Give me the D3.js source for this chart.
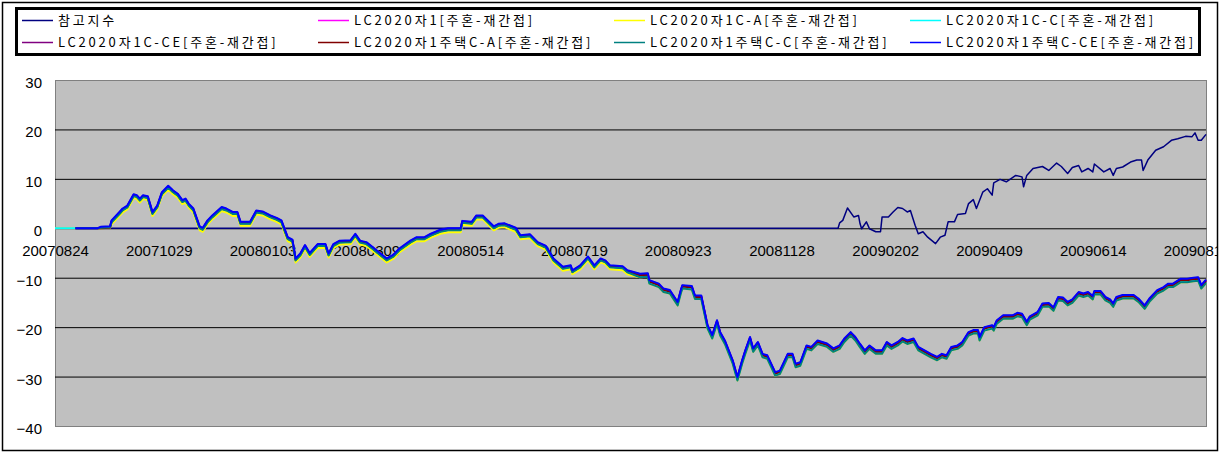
<!DOCTYPE html>
<html>
<head>
<meta charset="utf-8">
<script src="https://cdnjs.cloudflare.com/ajax/libs/d3/7.8.5/d3.min.js"></script>
<style>
body { margin: 0; background: #ffffff; }
</style>
</head>
<body>
<div id="grafico"></div>
<script>
/* nombres y colores de las series (orden de Excel) */
var seriesNames = ["참고지수", "LC2020자1[주혼-재간접]", "LC2020자1C-A[주혼-재간접]", "LC2020자1C-C[주혼-재간접]",
    "LC2020자1C-CE[주혼-재간접]", "LC2020자1주택C-A[주혼-재간접]", "LC2020자1주택C-C[주혼-재간접]", "LC2020자1주택C-CE[주혼-재간접]"];
var seriesColors = ["#000080", "#ff00ff", "#ffff00", "#00ffff", "#800080", "#800000", "#008080", "#0000ff"];

var xTickLabels = ["20070824", "20071029", "20080103", "20080309", "20080514", "20080719",
    "20080923", "20081128", "20090202", "20090409", "20090614", "20090819"];
var yTicks = [-40, -30, -20, -10, 0, 10, 20, 30];

/* 참고지수 */
var refDates = ["20070824", "20090103", "20090104", "20090106", "20090109", "20090113", "20090116", "20090117", "20090118", "20090121",
    "20090123", "20090127", "20090130", "20090131", "20090204", "20090207", "20090210", "20090213", "20090216", "20090218",
    "20090221", "20090223", "20090226", "20090301", "20090306", "20090309", "20090312", "20090314", "20090318", "20090320",
    "20090325", "20090327", "20090330", "20090401", "20090405", "20090408", "20090411", "20090412", "20090416", "20090420",
    "20090426", "20090430", "20090501", "20090503", "20090507", "20090513", "20090517", "20090522", "20090525", "20090529",
    "20090601", "20090605", "20090607", "20090611", "20090614", "20090615", "20090621", "20090625", "20090627", "20090629",
    "20090703", "20090708", "20090712", "20090715", "20090716", "20090719", "20090724", "20090729", "20090803", "20090807",
    "20090812", "20090816", "20090818", "20090820", "20090822", "20090825"];
var refValues = [0, 0, 1.1, 1.6, 4.1, 2.3, 2.6, 0.9, -0.1, 1.3,
    -0.1, -0.7, -0.7, 2.3, 2.3, 3.3, 4.2, 4.0, 3.3, 3.6,
    0.6, -1.1, -0.7, -1.8, -3.1, -1.8, -1.4, 1.3, 1.3, 2.8,
    3.0, 5.0, 5.8, 4.0, 7.3, 8.0, 6.7, 9.2, 9.9, 9.4,
    10.7, 10.4, 8.4, 10.7, 12.1, 12.5, 11.7, 13.2, 12.5, 11.1,
    12.3, 12.7, 11.4, 12.1, 11.4, 13.0, 11.4, 12.1, 10.7, 12.1,
    12.4, 13.4, 13.8, 13.8, 11.7, 13.8, 15.8, 16.5, 17.8, 18.1,
    18.6, 18.5, 19.3, 17.8, 17.8, 19.0];

/* fondos: misma fecha para todas las series */
var fundDates = ["20070824", "20070906", "20070920", "20070922", "20070928", "20070929", "20071004", "20071006", "20071009", "20071013",
    "20071015", "20071017", "20071019", "20071022", "20071025", "20071028", "20071031", "20071104", "20071107", "20071110",
    "20071113", "20071115", "20071117", "20071120", "20071124", "20071126", "20071129", "20071202", "20071208", "20071211",
    "20071215", "20071218", "20071220", "20071226", "20071230", "20080103", "20080108", "20080112", "20080115", "20080119",
    "20080122", "20080124", "20080127", "20080130", "20080202", "20080207", "20080212", "20080214", "20080217", "20080221",
    "20080228", "20080302", "20080305", "20080309", "20080313", "20080318", "20080322", "20080326", "20080330", "20080406",
    "20080410", "20080415", "20080419", "20080425", "20080430", "20080508", "20080509", "20080515", "20080518", "20080522",
    "20080529", "20080601", "20080605", "20080612", "20080615", "20080621", "20080626", "20080701", "20080706", "20080712",
    "20080717", "20080718", "20080723", "20080728", "20080801", "20080805", "20080808", "20080811", "20080819", "20080822",
    "20080830", "20080904", "20080905", "20080911", "20080914", "20080918", "20080923", "20080925", "20080926", "20081002",
    "20081004", "20081008", "20081010", "20081012", "20081015", "20081018", "20081020", "20081023", "20081028", "20081031",
    "20081103", "20081105", "20081108", "20081110", "20081113", "20081116", "20081119", "20081124", "20081127", "20081202",
    "20081205", "20081207", "20081210", "20081214", "20081217", "20081221", "20081227", "20081231", "20090104", "20090107",
    "20090111", "20090114", "20090117", "20090120", "20090123", "20090127", "20090131", "20090203", "20090206", "20090210",
    "20090213", "20090216", "20090220", "20090223", "20090227", "20090303", "20090307", "20090310", "20090313", "20090316",
    "20090320", "20090323", "20090327", "20090330", "20090402", "20090403", "20090406", "20090411", "20090412", "20090414",
    "20090418", "20090424", "20090427", "20090430", "20090503", "20090505", "20090510", "20090513", "20090517", "20090520",
    "20090523", "20090526", "20090529", "20090601", "20090605", "20090608", "20090611", "20090614", "20090615", "20090619",
    "20090622", "20090625", "20090627", "20090629", "20090703", "20090710", "20090713", "20090717", "20090720", "20090725",
    "20090729", "20090801", "20090804", "20090809", "20090813", "20090817", "20090820", "20090822", "20090825"];

/* LC2020자1 */
var fund1 = [0, 0, 0, 0.1, 0.2, 1.4, 3.1, 3.8, 4.4, 6.7,
    6.5, 5.8, 6.5, 6.3, 3.1, 4.4, 7.1, 8.4, 7.5, 6.8,
    5.5, 5.8, 4.8, 3.8, 0.2, -0.1, 1.4, 2.4, 4.1, 3.8,
    3.1, 3.1, 1.1, 1.1, 3.4, 3.2, 2.4, 1.9, 1.4, -2.0,
    -2.5, -6.3, -5.3, -3.6, -5.2, -3.4, -3.4, -5.3, -3.4, -2.7,
    -2.6, -1.3, -2.7, -3.0, -4.0, -5.3, -6.3, -5.6, -4.3, -2.7,
    -2.0, -2.0, -1.3, -0.5, -0.2, -0.2, 1.3, 1.1, 2.4, 2.4,
    0.2, 0.7, 0.8, -0.1, -1.6, -1.4, -3.0, -3.7, -6.3, -8.0,
    -7.7, -8.7, -7.7, -5.9, -7.7, -6.3, -6.7, -7.7, -7.9, -8.7,
    -9.4, -9.3, -10.7, -11.4, -12.4, -12.7, -15.1, -12.7, -11.7, -11.9,
    -13.8, -13.8, -16.8, -19.8, -21.8, -18.8, -21.2, -22.9, -26.9, -30.3,
    -26.9, -24.9, -22.2, -24.5, -23.2, -25.6, -25.9, -29.3, -29.0, -25.6,
    -25.6, -27.6, -27.3, -23.9, -24.2, -22.9, -23.5, -24.5, -23.9, -22.5,
    -21.2, -22.2, -23.6, -24.9, -23.9, -24.9, -24.9, -23.2, -23.9, -23.2,
    -22.4, -22.9, -22.5, -24.2, -24.9, -25.6, -26.2, -25.6, -25.9, -24.2,
    -23.9, -23.2, -21.2, -20.8, -20.8, -22.2, -20.2, -19.8, -20.2, -18.8,
    -17.8, -17.8, -17.3, -17.5, -19.1, -18.0, -17.1, -15.4, -15.3, -16.2,
    -14.1, -14.2, -15.1, -14.6, -13.1, -13.4, -13.1, -13.9, -12.9, -12.9,
    -14.1, -14.6, -15.4, -14.1, -13.7, -13.7, -14.4, -15.8, -14.4, -12.7,
    -12.1, -11.4, -11.4, -10.4, -10.4, -10.2, -10.1, -11.7, -10.6];

/* LC2020자1C-A */
var fund1CA = [0, 0, 0, 0.0, 0.1, 0.8, 2.5, 3.2, 3.8, 6.1,
    5.9, 5.2, 5.9, 5.7, 2.5, 3.8, 6.5, 7.8, 6.9, 6.2,
    4.9, 5.2, 4.2, 3.2, -0.4, -0.7, 0.8, 1.8, 3.5, 3.2,
    2.5, 2.5, 0.5, 0.5, 2.8, 2.6, 1.8, 1.3, 0.8, -2.6,
    -3.1, -6.9, -5.9, -4.2, -5.8, -4.0, -4.0, -5.9, -4.0, -3.3,
    -3.2, -1.9, -3.3, -3.6, -4.6, -5.9, -6.9, -6.2, -4.9, -3.3,
    -2.6, -2.6, -1.9, -1.1, -0.8, -0.8, 0.7, 0.5, 1.8, 1.8,
    -0.4, 0.1, 0.2, -0.7, -2.2, -2.0, -3.6, -4.3, -6.9, -8.6,
    -8.3, -9.3, -8.3, -6.5, -8.3, -6.9, -7.3, -8.3, -8.5, -9.3,
    -9.9, -9.8, -11.2, -11.9, -12.9, -13.2, -15.6, -13.2, -12.2, -12.4,
    -14.3, -14.3, -17.3, -20.3, -22.3, -19.3, -21.7, -23.4, -27.4, -30.8,
    -27.4, -25.4, -22.7, -25.0, -23.7, -26.1, -26.4, -29.8, -29.5, -26.1,
    -26.1, -28.1, -27.8, -24.4, -24.7, -23.4, -24.0, -25.0, -24.4, -23.0,
    -21.7, -22.7, -24.1, -25.4, -24.4, -25.4, -25.4, -23.7, -24.4, -23.7,
    -22.9, -23.4, -23.0, -24.7, -25.4, -26.1, -26.7, -26.1, -26.4, -24.7,
    -24.4, -23.7, -21.7, -21.3, -21.3, -22.7, -20.7, -20.3, -20.7, -19.3,
    -18.3, -18.3, -17.8, -18.0, -19.6, -18.5, -17.6, -15.9, -15.8, -16.7,
    -14.6, -14.7, -15.6, -15.1, -13.6, -13.9, -13.6, -14.4, -13.4, -13.4,
    -14.6, -15.1, -15.9, -14.6, -14.2, -14.2, -14.9, -16.3, -14.9, -13.2,
    -12.6, -11.9, -11.9, -10.9, -10.9, -10.7, -10.6, -12.2, -11.1];

/* LC2020자1C-C */
var fund1CC = [0, 0, 0, 0.1, 0.2, 1.3, 3.0, 3.7, 4.3, 6.6,
    6.4, 5.7, 6.4, 6.2, 3.0, 4.3, 7.0, 8.3, 7.4, 6.7,
    5.4, 5.7, 4.7, 3.7, 0.1, -0.2, 1.3, 2.3, 4.0, 3.7,
    3.0, 3.0, 1.0, 1.0, 3.3, 3.1, 2.3, 1.8, 1.3, -2.1,
    -2.6, -6.4, -5.4, -3.7, -5.3, -3.5, -3.5, -5.4, -3.5, -2.8,
    -2.7, -1.4, -2.8, -3.1, -4.1, -5.4, -6.4, -5.7, -4.4, -2.8,
    -2.1, -2.1, -1.4, -0.6, -0.3, -0.3, 1.2, 1.0, 2.3, 2.3,
    0.1, 0.6, 0.7, -0.2, -1.7, -1.5, -3.1, -3.8, -6.4, -8.1,
    -7.8, -8.8, -7.8, -6.0, -7.8, -6.4, -6.8, -7.8, -8.0, -8.8,
    -9.7, -9.6, -11.0, -11.7, -12.7, -13.0, -15.4, -13.0, -12.0, -12.2,
    -14.1, -14.1, -17.1, -20.1, -22.1, -19.1, -21.5, -23.2, -27.2, -30.6,
    -27.2, -25.2, -22.5, -24.8, -23.5, -25.9, -26.2, -29.6, -29.3, -25.9,
    -25.9, -27.9, -27.6, -24.2, -24.5, -23.2, -23.8, -24.8, -24.2, -22.8,
    -21.5, -22.5, -23.9, -25.2, -24.2, -25.2, -25.2, -23.5, -24.2, -23.5,
    -22.7, -23.2, -22.8, -24.5, -25.2, -25.9, -26.5, -25.9, -26.2, -24.5,
    -24.2, -23.5, -21.5, -21.1, -21.1, -22.5, -20.5, -20.1, -20.5, -19.1,
    -18.1, -18.1, -17.6, -17.8, -19.4, -18.3, -17.4, -15.7, -15.6, -16.5,
    -14.4, -14.5, -15.4, -14.9, -13.4, -13.7, -13.4, -14.2, -13.2, -13.2,
    -14.4, -14.9, -15.7, -14.4, -14.0, -14.0, -14.7, -16.1, -14.7, -13.0,
    -12.4, -11.7, -11.7, -10.7, -10.7, -10.5, -10.4, -12.0, -10.9];

/* LC2020자1C-CE */
var fund1CCE = [null, 0, 0, 0.2, 0.3, 1.5, 3.2, 3.9, 4.5, 6.8,
    6.6, 5.9, 6.6, 6.4, 3.2, 4.5, 7.2, 8.5, 7.6, 6.9,
    5.6, 5.9, 4.9, 3.9, 0.3, 0.0, 1.5, 2.5, 4.2, 3.9,
    3.2, 3.2, 1.2, 1.2, 3.5, 3.3, 2.5, 2.0, 1.5, -1.9,
    -2.4, -6.2, -5.2, -3.5, -5.1, -3.3, -3.3, -5.2, -3.3, -2.6,
    -2.5, -1.2, -2.6, -2.9, -3.9, -5.2, -6.2, -5.5, -4.2, -2.6,
    -1.9, -1.9, -1.2, -0.4, -0.1, -0.1, 1.4, 1.2, 2.5, 2.5,
    0.3, 0.8, 0.9, 0.0, -1.5, -1.3, -2.9, -3.6, -6.2, -7.9,
    -7.6, -8.6, -7.6, -5.8, -7.6, -6.2, -6.6, -7.6, -7.8, -8.6,
    -9.3, -9.2, -10.6, -11.3, -12.3, -12.6, -15.0, -12.6, -11.6, -11.8,
    -13.7, -13.7, -16.7, -19.7, -21.7, -18.7, -21.1, -22.8, -26.8, -30.2,
    -26.8, -24.8, -22.1, -24.4, -23.1, -25.5, -25.8, -29.2, -28.9, -25.5,
    -25.5, -27.5, -27.2, -23.8, -24.1, -22.8, -23.4, -24.4, -23.8, -22.4,
    -21.1, -22.1, -23.5, -24.8, -23.8, -24.8, -24.8, -23.1, -23.8, -23.1,
    -22.3, -22.8, -22.4, -24.1, -24.8, -25.5, -26.1, -25.5, -25.8, -24.1,
    -23.8, -23.1, -21.1, -20.7, -20.7, -22.1, -20.1, -19.7, -20.1, -18.7,
    -17.7, -17.7, -17.2, -17.4, -19.0, -17.9, -17.0, -15.3, -15.2, -16.1,
    -14.0, -14.1, -15.0, -14.5, -13.0, -13.3, -13.0, -13.8, -12.8, -12.8,
    -14.0, -14.5, -15.3, -14.0, -13.6, -13.6, -14.3, -15.7, -14.3, -12.6,
    -12.0, -11.3, -11.3, -10.3, -10.3, -10.1, -10.0, -11.6, -10.5];

/* LC2020자1주택C-A */
var fundHCA = [null, 0, 0, 0.0, 0.1, 1.3, 3.0, 3.7, 4.3, 6.6,
    6.4, 5.7, 6.4, 6.2, 3.0, 4.3, 7.0, 8.3, 7.4, 6.7,
    5.4, 5.7, 4.7, 3.7, 0.1, -0.2, 1.3, 2.3, 4.0, 3.7,
    3.0, 3.0, 1.0, 1.0, 3.3, 3.1, 2.3, 1.8, 1.3, -2.1,
    -2.6, -6.4, -5.4, -3.7, -5.3, -3.5, -3.5, -5.4, -3.5, -2.8,
    -2.7, -1.4, -2.8, -3.1, -4.1, -5.4, -6.4, -5.7, -4.4, -2.8,
    -2.1, -2.1, -1.4, -0.6, -0.3, -0.3, 1.2, 1.0, 2.3, 2.3,
    0.1, 0.6, 0.7, -0.2, -1.7, -1.5, -3.1, -3.8, -6.4, -8.1,
    -7.8, -8.8, -7.8, -6.0, -7.8, -6.4, -6.8, -7.8, -8.0, -8.8,
    -9.5, -9.4, -10.8, -11.5, -12.5, -12.8, -15.2, -12.8, -11.8, -12.0,
    -13.9, -13.9, -16.9, -19.9, -21.9, -18.9, -21.3, -23.0, -27.0, -30.4,
    -27.0, -25.0, -22.3, -24.6, -23.3, -25.7, -26.0, -29.4, -29.1, -25.7,
    -25.7, -27.7, -27.4, -24.0, -24.3, -23.0, -23.6, -24.6, -24.0, -22.6,
    -21.3, -22.3, -23.7, -25.0, -24.0, -25.0, -25.0, -23.3, -24.0, -23.3,
    -22.5, -23.0, -22.6, -24.3, -25.0, -25.7, -26.3, -25.7, -26.0, -24.3,
    -24.0, -23.3, -21.3, -20.9, -20.9, -22.3, -20.3, -19.9, -20.3, -18.9,
    -17.9, -17.9, -17.4, -17.6, -19.2, -18.1, -17.2, -15.5, -15.4, -16.3,
    -14.2, -14.3, -15.2, -14.7, -13.2, -13.5, -13.2, -14.0, -13.0, -13.0,
    -14.2, -14.7, -15.5, -14.2, -13.8, -13.8, -14.5, -15.9, -14.5, -12.8,
    -12.2, -11.5, -11.5, -10.5, -10.5, -10.3, -10.2, -11.8, -10.7];

/* LC2020자1주택C-C */
var fundHCC = [null, 0, 0, 0.1, 0.2, 1.2, 2.9, 3.6, 4.2, 6.5,
    6.3, 5.6, 6.3, 6.1, 2.9, 4.2, 6.9, 8.2, 7.3, 6.6,
    5.3, 5.6, 4.6, 3.6, 0.0, -0.3, 1.2, 2.2, 3.9, 3.6,
    2.9, 2.9, 0.9, 0.9, 3.2, 3.0, 2.2, 1.7, 1.2, -2.2,
    -2.7, -6.5, -5.5, -3.8, -5.4, -3.6, -3.6, -5.5, -3.6, -2.9,
    -2.8, -1.5, -2.9, -3.2, -4.2, -5.5, -6.5, -5.8, -4.5, -2.9,
    -2.2, -2.2, -1.5, -0.7, -0.4, -0.4, 1.1, 0.9, 2.2, 2.2,
    0.0, 0.5, 0.6, -0.3, -1.8, -1.6, -3.2, -3.9, -6.5, -8.2,
    -7.9, -8.9, -7.9, -6.1, -7.9, -6.5, -6.9, -7.9, -8.1, -8.9,
    -9.9, -9.8, -11.2, -11.9, -12.9, -13.2, -15.6, -13.2, -12.2, -12.4,
    -14.3, -14.3, -17.3, -20.3, -22.3, -19.3, -21.7, -23.4, -27.4, -30.8,
    -27.4, -25.4, -22.7, -25.0, -23.7, -26.1, -26.4, -29.8, -29.5, -26.1,
    -26.1, -28.1, -27.8, -24.4, -24.7, -23.4, -24.0, -25.0, -24.4, -23.0,
    -21.7, -22.7, -24.1, -25.4, -24.4, -25.4, -25.4, -23.7, -24.4, -23.7,
    -22.9, -23.4, -23.0, -24.7, -25.4, -26.1, -26.7, -26.1, -26.4, -24.7,
    -24.4, -23.7, -21.7, -21.3, -21.3, -22.7, -20.7, -20.3, -20.7, -19.3,
    -18.3, -18.3, -17.8, -18.0, -19.6, -18.5, -17.6, -15.9, -15.8, -16.7,
    -14.6, -14.7, -15.6, -15.1, -13.6, -13.9, -13.6, -14.4, -13.4, -13.4,
    -14.6, -15.1, -15.9, -14.6, -14.2, -14.2, -14.9, -16.3, -14.9, -13.2,
    -12.6, -11.9, -11.9, -10.9, -10.9, -10.7, -10.6, -12.2, -11.1];

/* LC2020자1주택C-CE */
var fundHCCE = [null, 0, 0, 0.3, 0.4, 1.6, 3.3, 4.0, 4.6, 6.9,
    6.7, 6.0, 6.7, 6.5, 3.3, 4.6, 7.3, 8.6, 7.7, 7.0,
    5.7, 6.0, 5.0, 4.0, 0.4, 0.1, 1.6, 2.6, 4.3, 4.0,
    3.3, 3.3, 1.3, 1.3, 3.6, 3.4, 2.6, 2.1, 1.6, -1.8,
    -2.3, -6.1, -5.1, -3.4, -5.0, -3.2, -3.2, -5.1, -3.2, -2.5,
    -2.4, -1.1, -2.5, -2.8, -3.8, -5.1, -6.1, -5.4, -4.1, -2.5,
    -1.8, -1.8, -1.1, -0.3, 0.0, 0.0, 1.5, 1.3, 2.6, 2.6,
    0.4, 0.9, 1.0, 0.1, -1.4, -1.2, -2.8, -3.5, -6.1, -7.8,
    -7.5, -8.5, -7.5, -5.7, -7.5, -6.1, -6.5, -7.5, -7.7, -8.5,
    -9.2, -9.1, -10.5, -11.2, -12.2, -12.5, -14.9, -12.5, -11.5, -11.7,
    -13.6, -13.6, -16.6, -19.6, -21.6, -18.6, -21.0, -22.7, -26.7, -30.1,
    -26.7, -24.7, -22.0, -24.3, -23.0, -25.4, -25.7, -29.1, -28.8, -25.4,
    -25.4, -27.4, -27.1, -23.7, -24.0, -22.7, -23.3, -24.3, -23.7, -22.3,
    -21.0, -22.0, -23.4, -24.7, -23.7, -24.7, -24.7, -23.0, -23.7, -23.0,
    -22.2, -22.7, -22.3, -24.0, -24.7, -25.4, -26.0, -25.4, -25.7, -24.0,
    -23.7, -23.0, -21.0, -20.6, -20.6, -22.0, -20.0, -19.6, -20.0, -18.6,
    -17.6, -17.6, -17.1, -17.3, -18.9, -17.8, -16.9, -15.2, -15.1, -16.0,
    -13.9, -14.0, -14.9, -14.4, -12.9, -13.2, -12.9, -13.7, -12.7, -12.7,
    -13.9, -14.4, -15.2, -13.9, -13.5, -13.5, -14.2, -15.6, -14.2, -12.5,
    -11.9, -11.2, -11.2, -10.2, -10.2, -10.0, -9.9, -11.5, -10.4];

function grafico() {
    var w = 1225,
        h = 452;

    var plot = {left: 55, top: 80, right: 1206, bottom: 426};

    var parse = d3.utcParse("%Y%m%d");

    var allValues = [refValues, fund1, fund1CA, fund1CC, fund1CCE, fundHCA, fundHCC, fundHCCE];
    var series = [];
    for (var i = 0; i < seriesNames.length; i++) {
        var fechas = (i == 0) ? refDates : fundDates;
        var puntos = [];
        for (var j = 0; j < fechas.length; j++) {
            puntos.push({date: parse(fechas[j]), v: allValues[i][j]});
        }
        series.push({name: seriesNames[i], color: seriesColors[i], puntos: puntos});
    }

    var x = d3.scaleUtc()
        .domain([parse(fundDates[0]), parse(fundDates[fundDates.length - 1])])
        .range([plot.left, plot.right]);

    var y = d3.scaleLinear()
        .domain([d3.min(yTicks), d3.max(yTicks)])
        .range([plot.bottom, plot.top]);

    var svg = d3.select("#grafico")
        .append("svg")
        .attr("width", w)
        .attr("height", h);

    svg.append("clipPath")
        .attr("id", "recorte")
        .append("rect")
        .attr("x", 0).attr("y", 0)
        .attr("width", 1217).attr("height", h);

    var g = svg.append("g").attr("clip-path", "url(#recorte)");

    //PLOT AREA
    g.append("rect")
        .attr("x", plot.left + 0.5)
        .attr("y", plot.top + 0.5)
        .attr("width", plot.right - plot.left)
        .attr("height", plot.bottom - plot.top)
        .attr("fill", "#c0c0c0")
        .attr("stroke", "#808080")
        .attr("stroke-width", 1);

    //GRID
    g.append("g")
        .attr("transform", "translate(" + plot.left + ",0)")
        .call(d3.axisLeft(y)
            .tickValues(yTicks.filter(function(d) { return d > d3.min(yTicks) && d < d3.max(yTicks) && d != 0; }))
            .tickSize(-(plot.right - plot.left))
            .tickFormat(""))
        .call(function(s) {
            s.select(".domain").remove();
            s.selectAll("line").attr("stroke", "#000").attr("stroke-width", 1);
        });

    //Y LABELS
    g.append("g")
        .attr("transform", "translate(" + (plot.left - 13) + ",0)")
        .call(d3.axisLeft(y)
            .tickValues(yTicks)
            .tickSize(0)
            .tickPadding(0)
            .tickFormat(function(d) { return d < 0 ? "\u2212" + (-d) : d; }))
        .call(function(s) {
            s.select(".domain").remove();
            s.selectAll("text")
                .attr("dy", "0.5em")
                .attr("fill", "#000")
                .attr("font-family", "'Liberation Sans', Arial, sans-serif")
                .attr("font-size", "15px");
        });

    //X AXIS
    g.append("g")
        .attr("transform", "translate(0," + y(0) + ")")
        .call(d3.axisBottom(x)
            .tickValues(xTickLabels.map(parse))
            .tickSize(0)
            .tickPadding(17)
            .tickFormat(d3.utcFormat("%Y%m%d")))
        .call(function(s) {
            s.select(".domain").attr("stroke", "#000");
            s.selectAll("text")
                .attr("fill", "#000")
                .attr("font-family", "'Liberation Sans', Arial, sans-serif")
                .attr("font-size", "15px");
        });

    //LINES
    var linea = d3.line()
        .defined(function(d) { return d.v != null; })
        .x(function(d) { return x(d.date); })
        .y(function(d) { return y(d.v); });

    g.selectAll("path.serie")
        .data(series)
        .enter().append("path")
        .attr("class", "serie")
        .attr("d", function(d) { return linea(d.puntos); })
        .attr("fill", "none")
        .attr("stroke", function(d) { return d.color; })
        .attr("stroke-width", function(d, i) { return i == 0 ? 1.5 : 2; })
        .attr("stroke-linejoin", "round");

    //LEGEND
    svg.append("rect")
        .attr("x", 16.5)
        .attr("y", 8.5)
        .attr("width", 1183)
        .attr("height", 46)
        .attr("fill", "#fff")
        .attr("stroke", "#000")
        .attr("stroke-width", 3);

    var leyenda = svg.selectAll("g.leyenda")
        .data(series)
        .enter().append("g")
        .attr("class", "leyenda")
        .attr("transform", function(d, i) {
            return "translate(" + (22 + (i % 4) * 296) + "," + (i < 4 ? 20.5 : 42.5) + ")";
        });

    leyenda.append("line")
        .attr("x1", 0).attr("x2", 31)
        .attr("y1", 0).attr("y2", 0)
        .attr("stroke", function(d) { return d.color; })
        .attr("stroke-width", 1.5);

    leyenda.append("text")
        .text(function(d) { return d.name; })
        .attr("x", 36)
        .attr("y", 0)
        .attr("dy", "0.36em")
        .attr("fill", "#000")
        .attr("font-family", "'Noto Sans CJK KR', sans-serif")
        .attr("font-size", "13px")
        .attr("letter-spacing", "2.8px");

    //BORDER
    svg.append("rect")
        .attr("x", 2.5)
        .attr("y", 2.5)
        .attr("width", 1215)
        .attr("height", 448)
        .attr("fill", "none")
        .attr("stroke", "#000")
        .attr("stroke-width", 1.5);
}

grafico();
</script>
</body>
</html>
